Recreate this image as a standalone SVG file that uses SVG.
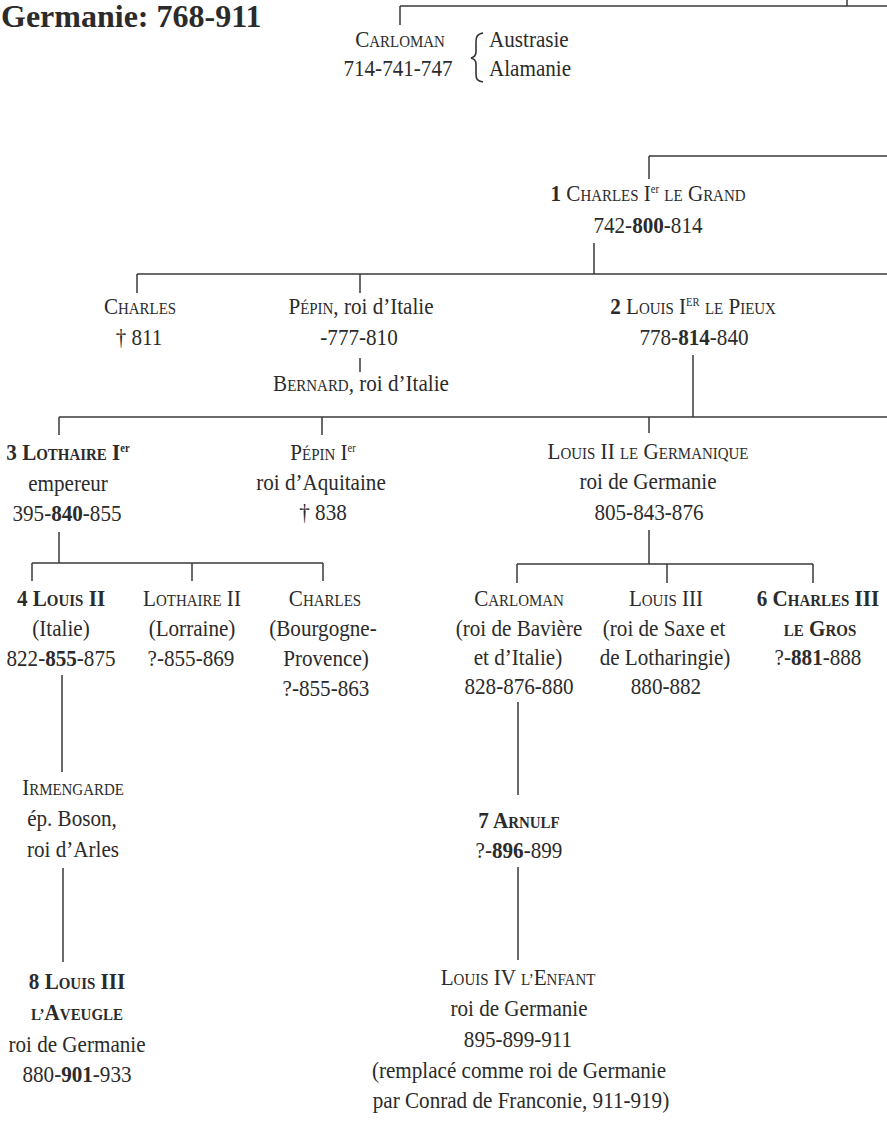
<svg xmlns="http://www.w3.org/2000/svg" width="887" height="1121" viewBox="0 0 887 1121">
<style>
text{font-family:"Liberation Serif","Times New Roman",serif;font-size:24px;fill:#2b2b2b;text-anchor:middle;transform-box:fill-box;transform-origin:center;transform:scaleX(0.88)}
.s{font-size:17px}
.b{font-weight:700}
.sup{font-size:12px}
.l{text-anchor:start;transform-origin:left center}
#title text{transform:none}
#connectors path{stroke:#3a3a3a;stroke-width:1.5;fill:none}
</style>
<rect width="887" height="1121" fill="#fff"/>
<g id="title"><text class="b l" x="1" y="27" style="font-size:32px">Germanie: 768-911</text></g>
<g id="connectors">
<path d="M847,0V6M400,6H887M400,6V25"/>
<path d="M649,156H887M649,156V179"/>
<path d="M594,243V274M137,274H887M137,274V293M360,274V293M360,358V372"/>
<path d="M693,355V417M59,417H887M59,417V435M322,417V435M649,417V433"/>
<path d="M59,532V563M32,563H323M32,563V581M192,563V581M323,563V581"/>
<path d="M649,530V564M517,564H813M517,564V583M667,564V583M813,564V583"/>
<path d="M62,675V772M63,868V962"/>
<path d="M518,702V795M518,867V960"/>
</g>
<g id="n-carloman">
<text x="400" y="47">C<tspan class="s">ARLOMAN</tspan></text>
<text x="398" y="76">714-741-747</text>
<path d="M483,33C477,34 476,37 476,42V52C476,55 475,57 471,58C475,59 476,61 476,64V74C476,79 477,81 483,82" fill="none" stroke="#333" stroke-width="1.6"/>
<text class="l" x="489" y="47">Austrasie</text>
<text class="l" x="489" y="76">Alamanie</text>
</g>
<g id="n-charles1">
<text x="648" y="201"><tspan class="b">1</tspan>  C<tspan class="s">HARLES</tspan> I<tspan class="sup" dy="-8">er</tspan><tspan dy="8"> </tspan><tspan class="s">LE</tspan> G<tspan class="s">RAND</tspan></text>
<text x="648" y="233">742-<tspan class="b">800</tspan>-814</text>
</g>
<g id="n-charles">
<text x="140" y="314">C<tspan class="s">HARLES</tspan></text>
<text x="139" y="345">† 811</text>
</g>
<g id="n-pepin">
<text x="361" y="314">P<tspan class="s">ÉPIN</tspan>, roi d’Italie</text>
<text x="359" y="345">-777-810</text>
</g>
<g id="n-bernard">
<text x="361" y="391">B<tspan class="s">ERNARD</tspan>, roi d’Italie</text>
</g>
<g id="n-louis1">
<text x="693" y="314"><tspan class="b">2</tspan>  L<tspan class="s">OUIS</tspan> I<tspan class="sup" dy="-8">ER</tspan><tspan dy="8"> </tspan><tspan class="s">LE</tspan> P<tspan class="s">IEUX</tspan></text>
<text x="694" y="345">778-<tspan class="b">814</tspan>-840</text>
</g>
<g id="n-lothaire1">
<text class="b" x="68" y="460">3 L<tspan class="s">OTHAIRE</tspan> I<tspan class="sup" dy="-8">er</tspan></text>
<text x="68" y="491">empereur</text>
<text x="67" y="521">395-<tspan class="b">840</tspan>-855</text>
</g>
<g id="n-pepin1">
<text x="323" y="460">P<tspan class="s">ÉPIN</tspan> I<tspan class="sup" dy="-8">er</tspan></text>
<text x="321" y="490">roi d’Aquitaine</text>
<text x="323" y="520">† 838</text>
</g>
<g id="n-louisger">
<text x="648" y="459">L<tspan class="s">OUIS</tspan> II <tspan class="s">LE</tspan> G<tspan class="s">ERMANIQUE</tspan></text>
<text x="648" y="489">roi de Germanie</text>
<text x="649" y="520">805-843-876</text>
</g>
<g id="n-louis2">
<text class="b" x="61" y="606">4 L<tspan class="s">OUIS</tspan> II</text>
<text x="61" y="636">(Italie)</text>
<text x="61" y="666">822-<tspan class="b">855</tspan>-875</text>
</g>
<g id="n-lothaire2">
<text x="192" y="606">L<tspan class="s">OTHAIRE</tspan> II</text>
<text x="192" y="636">(Lorraine)</text>
<text x="191" y="666">?-855-869</text>
</g>
<g id="n-charlesbp">
<text x="325" y="606">C<tspan class="s">HARLES</tspan></text>
<text x="323" y="636">(Bourgogne-</text>
<text x="326" y="666">Provence)</text>
<text x="326" y="696">?-855-863</text>
</g>
<g id="n-carloman2">
<text x="519" y="606">C<tspan class="s">ARLOMAN</tspan></text>
<text x="519" y="636">(roi de Bavière</text>
<text x="518" y="665">et d’Italie)</text>
<text x="519" y="694">828-876-880</text>
</g>
<g id="n-louis3s">
<text x="666" y="606">L<tspan class="s">OUIS</tspan> III</text>
<text x="664" y="636">(roi de Saxe et</text>
<text x="665" y="665">de Lotharingie)</text>
<text x="666" y="694">880-882</text>
</g>
<g id="n-charles3">
<text class="b" x="818" y="606">6 C<tspan class="s">HARLES</tspan> III</text>
<text class="b" x="820" y="636"><tspan class="s">LE</tspan> G<tspan class="s">ROS</tspan></text>
<text x="818" y="665">?-<tspan class="b">881</tspan>-888</text>
</g>
<g id="n-irmengarde">
<text x="73" y="795">I<tspan class="s">RMENGARDE</tspan></text>
<text x="72" y="826">ép. Boson,</text>
<text x="73" y="857">roi d’Arles</text>
</g>
<g id="n-arnulf">
<text class="b" x="519" y="828">7  A<tspan class="s">RNULF</tspan></text>
<text x="519" y="858">?-<tspan class="b">896</tspan>-899</text>
</g>
<g id="n-louis3av">
<text class="b" x="77" y="989">8 L<tspan class="s">OUIS</tspan> III</text>
<text class="b" x="77" y="1020"><tspan class="s">L’</tspan>A<tspan class="s">VEUGLE</tspan></text>
<text x="77" y="1052">roi de Germanie</text>
<text x="77" y="1082">880-<tspan class="b">901</tspan>-933</text>
</g>
<g id="n-louis4">
<text x="518" y="985">L<tspan class="s">OUIS</tspan>  IV  <tspan class="s">L’</tspan>E<tspan class="s">NFANT</tspan></text>
<text x="519" y="1016">roi de Germanie</text>
<text x="518" y="1047">895-899-911</text>
<text x="519" y="1078">(remplacé comme roi de Germanie</text>
<text x="521" y="1108">par Conrad de Franconie, 911-919)</text>
</g>
</svg>
